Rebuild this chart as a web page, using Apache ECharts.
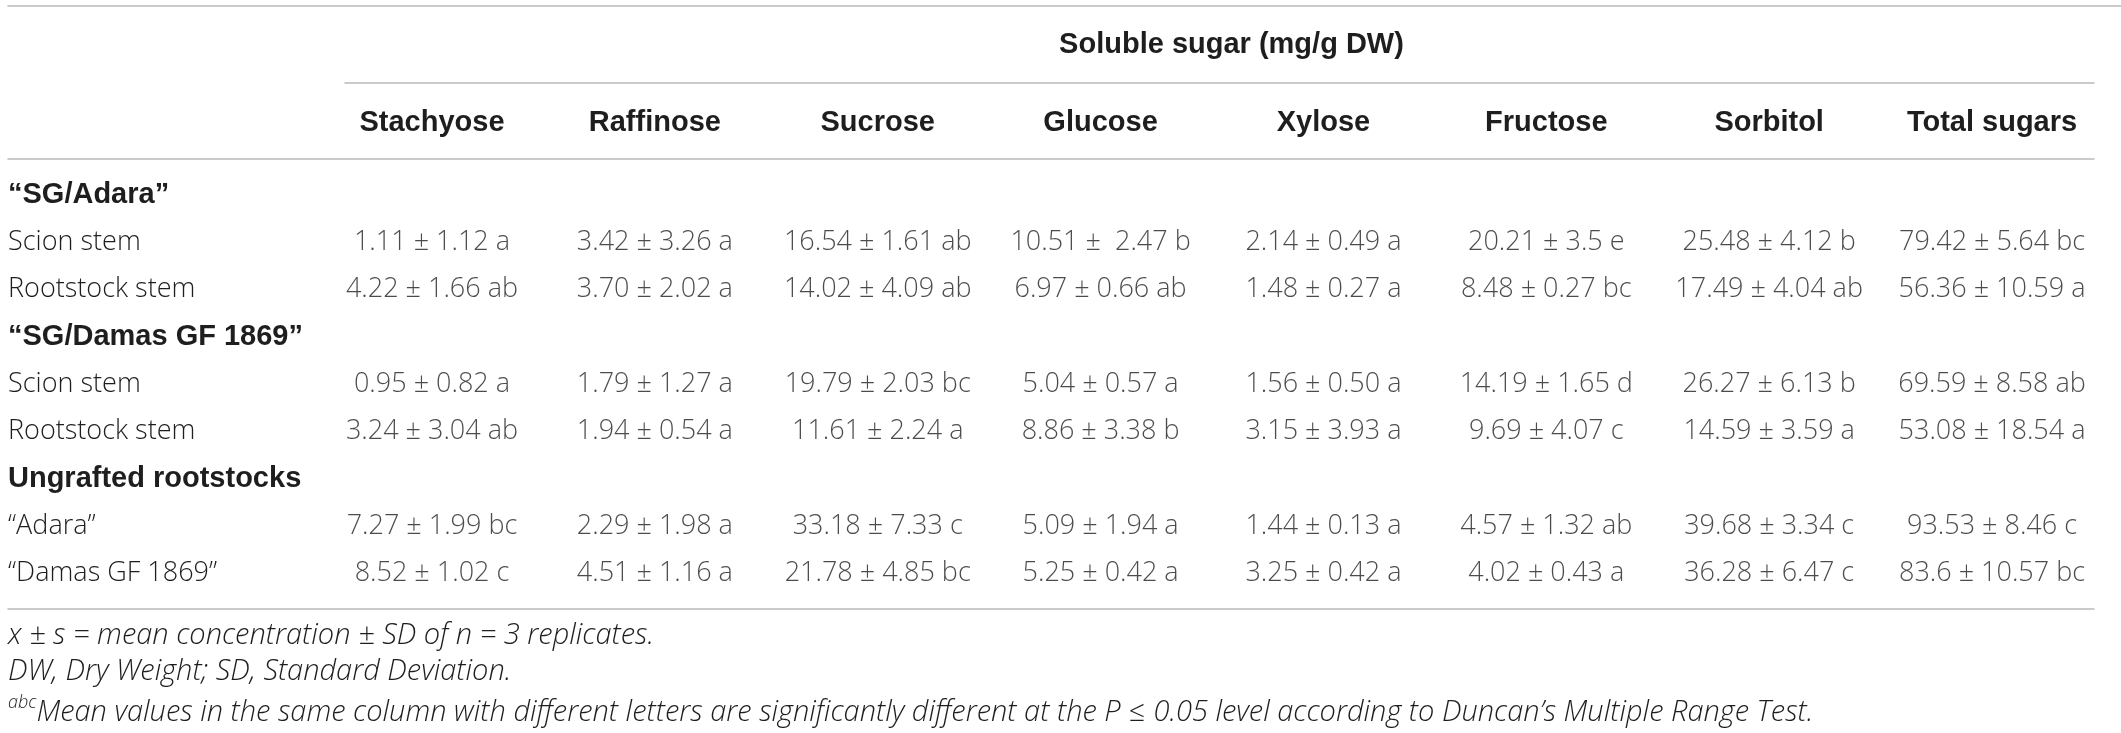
<!DOCTYPE html>
<html>
<head>
<meta charset="utf-8">
<title>Soluble sugar</title>
<script src="https://cdn.jsdelivr.net/npm/echarts@6.0.0/dist/echarts.min.js"></script>
<style>
  body { margin: 0; background: #fff; }
  #main { width: 2121px; height: 733px; }
</style>
</head>
<body>
<div id="main"></div>
<script>
// column headers and row labels
var sugars = ['Stachyose', 'Raffinose', 'Sucrose', 'Glucose', 'Xylose', 'Fructose', 'Sorbitol', 'Total sugars'];
var rowLabels = ['\u201cSG/Adara\u201d', 'Scion stem', 'Rootstock stem', '\u201cSG/Damas GF 1869\u201d',
  'Scion stem', 'Rootstock stem', 'Ungrafted rootstocks', '\u201cAdara\u201d', '\u201cDamas GF 1869\u201d'];
var groupRows = [0, 3, 6];

// mean ± SD + Duncan letter, one array per sample row
var adaraScion = ['1.11 ± 1.12 a', '3.42 ± 3.26 a', '16.54 ± 1.61 ab', '10.51 ±  2.47 b', '2.14 ± 0.49 a', '20.21 ± 3.5 e', '25.48 ± 4.12 b', '79.42 ± 5.64 bc'];
var adaraRootstock = ['4.22 ± 1.66 ab', '3.70 ± 2.02 a', '14.02 ± 4.09 ab', '6.97 ± 0.66 ab', '1.48 ± 0.27 a', '8.48 ± 0.27 bc', '17.49 ± 4.04 ab', '56.36 ± 10.59 a'];
var damasScion = ['0.95 ± 0.82 a', '1.79 ± 1.27 a', '19.79 ± 2.03 bc', '5.04 ± 0.57 a', '1.56 ± 0.50 a', '14.19 ± 1.65 d', '26.27 ± 6.13 b', '69.59 ± 8.58 ab'];
var damasRootstock = ['3.24 ± 3.04 ab', '1.94 ± 0.54 a', '11.61 ± 2.24 a', '8.86 ± 3.38 b', '3.15 ± 3.93 a', '9.69 ± 4.07 c', '14.59 ± 3.59 a', '53.08 ± 18.54 a'];
var adaraUngrafted = ['7.27 ± 1.99 bc', '2.29 ± 1.98 a', '33.18 ± 7.33 c', '5.09 ± 1.94 a', '1.44 ± 0.13 a', '4.57 ± 1.32 ab', '39.68 ± 3.34 c', '93.53 ± 8.46 c'];
var damasUngrafted = ['8.52 ± 1.02 c', '4.51 ± 1.16 a', '21.78 ± 4.85 bc', '5.25 ± 0.42 a', '3.25 ± 0.42 a', '4.02 ± 0.43 a', '36.28 ± 6.47 c', '83.6 ± 10.57 bc'];

var footnotes = [
  'x ± s = mean concentration ± SD of n = 3 replicates.',
  'DW, Dry Weight; SD, Standard Deviation.',
  'Mean values in the same column with different letters are significantly different at the P \u2264 0.05 level according to Duncan\u2019s Multiple Range Test.'
];

var sampleRows = [
  [1, adaraScion], [2, adaraRootstock],
  [4, damasScion], [5, damasRootstock],
  [7, adaraUngrafted], [8, damasUngrafted]
];

// layout (pixels)
var W = 2121, H = 733;
var tableLeft = 8, tableRight = 2094;
var headRule = 159, bottomRule = 609;
var col0 = 432, colStep = 222.86;
var row0 = 195, rowStep = 47.3;
var ink = '#1e1e1e', rule = '#b9b9b9';
var light = 'Open Sans', bold = 'Liberation Sans';
var fs = 27;

var cells = [];
sampleRows.forEach(function (r) {
  r[1].forEach(function (txt, c) {
    cells.push({ name: txt, value: [c, r[0]] });
  });
});

var ruleLine = { show: true, onZero: false, lineStyle: { color: rule, width: 1.5 } };
var off = { show: false };
var noteStyle = { fontFamily: light, fontSize: 29, fontWeight: 300, fontStyle: 'italic', color: ink };

function idx(n) { var a = []; for (var i = 0; i < n; i++) a.push(i); return a; }

var myChart = echarts.init(document.getElementById('main'), null, { renderer: 'canvas' });
var option = {
  animation: false,
  backgroundColor: '#fff',
  title: [
    { left: 8, top: 621, padding: 0, text: footnotes[0], textStyle: noteStyle },
    { left: 8, top: 657, padding: 0, text: footnotes[1], textStyle: noteStyle },
    { left: 8, top: 694, padding: 0, text: '{sup|abc}{m|' + footnotes[2] + '}',
      textStyle: { rich: {
        sup: { fontFamily: light, fontSize: 18, fontWeight: 300, fontStyle: 'italic', color: ink, verticalAlign: 'top', lineHeight: 30 },
        m: { fontFamily: light, fontSize: 29, fontWeight: 300, fontStyle: 'italic', color: ink, lineHeight: 38 }
      } } }
  ],
  grid: [
    { left: tableLeft, right: W - tableRight, top: headRule, bottom: H - bottomRule },
    { left: 345, right: W - tableRight, top: 83, height: 1 },
    { left: tableLeft, right: 0, top: 6, height: 1 }
  ],
  xAxis: [
    { type: 'value', gridIndex: 0, position: 'top',
      min: (tableLeft - col0) / colStep, max: (tableRight - col0) / colStep,
      axisLine: ruleLine, axisTick: off, splitLine: off,
      axisLabel: { customValues: idx(sugars.length), margin: 22,
        formatter: function (v) { return sugars[Math.round(v)]; },
        fontFamily: bold, fontWeight: 'bold', fontSize: 29, color: ink } },
    { type: 'value', gridIndex: 0, position: 'bottom',
      min: (tableLeft - col0) / colStep, max: (tableRight - col0) / colStep,
      axisLine: ruleLine, axisTick: off, splitLine: off, axisLabel: off },
    { type: 'value', gridIndex: 1, position: 'top', min: 0, max: 1,
      axisLine: ruleLine, axisTick: off, splitLine: off, axisLabel: off,
      name: 'Soluble sugar (mg/g DW)', nameLocation: 'middle', nameGap: 24,
      nameTextStyle: { fontFamily: bold, fontWeight: 'bold', fontSize: 29, color: ink, padding: [0, 0, 0, 24] } },
    { type: 'value', gridIndex: 2, position: 'top', min: 0, max: 1,
      axisLine: ruleLine, axisTick: off, splitLine: off, axisLabel: off }
  ],
  yAxis: [
    { type: 'value', gridIndex: 0, inverse: true,
      min: (headRule - row0) / rowStep, max: (bottomRule - row0) / rowStep,
      axisLine: off, axisTick: off, splitLine: off,
      axisLabel: { customValues: idx(rowLabels.length), margin: 0, align: 'left',
        formatter: function (v) {
          var i = Math.round(v);
          return (groupRows.indexOf(i) >= 0 ? '{g|' : '{n|') + rowLabels[i] + '}';
        },
        rich: {
          g: { fontFamily: bold, fontWeight: 'bold', fontSize: 29, color: ink },
          n: { fontFamily: light, fontWeight: 300, fontSize: fs, color: ink }
        } } },
    { type: 'value', gridIndex: 1, show: false },
    { type: 'value', gridIndex: 2, show: false }
  ],
  series: [
    {
      type: 'scatter',
      xAxisIndex: 0, yAxisIndex: 0,
      symbolSize: 0,
      silent: true,
      data: cells,
      label: { show: true, position: 'inside', formatter: '{b}',
        fontFamily: light, fontWeight: 300, fontSize: fs, color: ink }
    }
  ]
};
myChart.setOption(option);
</script>
</body>
</html>
